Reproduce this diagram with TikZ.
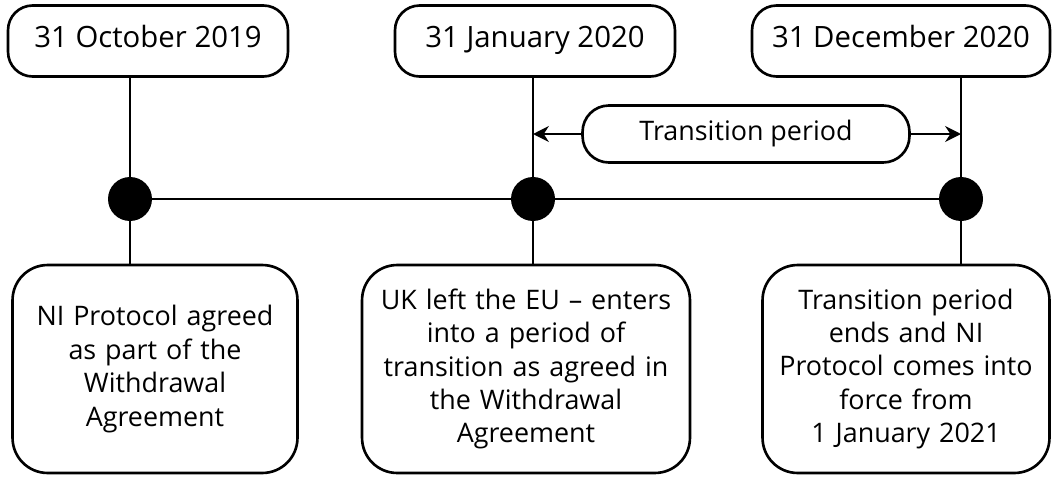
\documentclass[tikz,border=0pt]{standalone}
\usepackage{fontspec}
\setmainfont{Open Sans}
\usetikzlibrary{arrows.meta, positioning}

\begin{document}
\begin{tikzpicture}[
    x=0.02cm, y=-0.02cm,
    datebox/.style={rectangle, draw=black, line width=1.5pt, rounded corners=14pt, minimum height=1.42cm, text height=1.6ex, text depth=.3ex, font=\fontsize{16.7}{20}\selectfont},
    eventbox/.style={rectangle, draw=black, line width=1.5pt, rounded corners=20pt, minimum height=4.16cm, align=center, font=\fontsize{15.3}{19}\selectfont},
    periodbox/.style={rectangle, draw=black, line width=1.5pt, rounded corners=15pt, minimum width=6.54cm, minimum height=1.14cm, font=\fontsize{15.3}{18}\selectfont},
    milestone/.style={circle, fill=black, minimum size=0.88cm, inner sep=0pt},
    link/.style={line width=1.5pt},
    arrow/.style={-{Stealth[length=9pt, width=9pt]}, line width=1.5pt}
]
\useasboundingbox (0,0) rectangle (1054,477);

% Dates
\node[datebox, minimum width=5.6cm] (oct) at (148, 41) {31 October 2019};
\node[datebox, minimum width=5.6cm] (jan) at (535, 41) {31 January 2020};
\node[datebox, minimum width=5.96cm] (dec) at (901, 41) {31 December 2020};

% Events
\node[eventbox, minimum width=5.7cm, text width=5.3cm] (protocol) at (155, 369) {NI Protocol agreed\\as part of the\\Withdrawal\\Agreement};
\node[eventbox, minimum width=6.56cm, text width=6.2cm] (leave) at (526, 369) {UK left the EU -- enters\\into a period of\\transition as agreed in\\the Withdrawal\\Agreement};
\node[eventbox, minimum width=5.74cm, text width=5.4cm] (force) at (906, 369) {Transition period\\ends and NI\\Protocol comes into\\force from\\1 January 2021};

% Milestones
\coordinate (octpos) at (130, 199);
\coordinate (janpos) at (533, 199);
\coordinate (decpos) at (961, 199);

\draw[link] (octpos |- oct.south) -- (octpos |- protocol.north);
\draw[link] (janpos |- jan.south) -- (janpos |- leave.north);
\draw[link] (decpos |- dec.south) -- (decpos |- force.north);
\draw[link] (octpos) -- (janpos) -- (decpos);

\node[milestone] (octdot) at (octpos) {};
\node[milestone] (jandot) at (janpos) {};
\node[milestone] (decdot) at (decpos) {};

% Transition period
\node[periodbox] (period) at (746, 134) {Transition period};
\draw[arrow] (period.west) -- (janpos |- period.west);
\draw[arrow] (period.east) -- (decpos |- period.east);

\end{tikzpicture}
\end{document}
